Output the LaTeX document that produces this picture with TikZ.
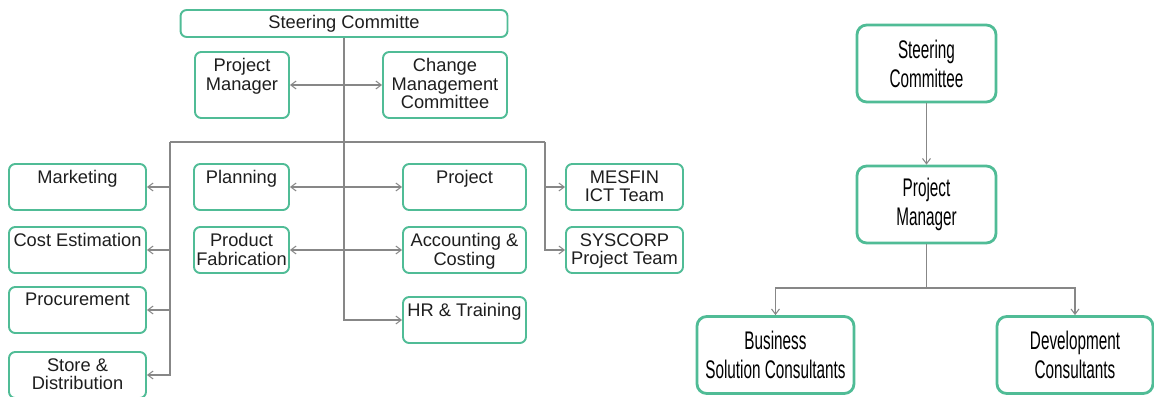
\documentclass[tikz,border=0pt]{standalone}
\usepackage{fontspec}
\setmainfont{Liberation Sans}
\newfontfamily\narrowsans[FakeStretch=0.6]{Liberation Sans}
\usetikzlibrary{arrows.meta, positioning}
\definecolor{boxgreen}{RGB}{80,188,150}
\definecolor{linegray}{RGB}{135,135,135}
\definecolor{textgray}{RGB}{30,30,30}
\newcommand{\unitfont}{\fontsize{10.4}{10.6}\selectfont}
\newcommand{\rolefont}{\narrowsans\fontsize{14.5}{16.5}\selectfont}

\tikzset{
  unitbox/.style={draw=boxgreen, line width=1.1pt, rounded corners=3.5pt, inner sep=0pt},
  unitlabel/.style={anchor=north, yshift=-3pt, inner sep=1pt, align=center, text=textgray, font=\unitfont},
  rolebox/.style={draw=boxgreen, line width=1.6pt, rounded corners=5.5pt, inner sep=2pt, align=center,
    text=black, font=\rolefont, minimum width=2.78cm, minimum height=1.54cm},
  link/.style={draw=linegray, line width=0.6pt},
  onearrow/.style={-{Straight Barb[length=3pt, width=4.5pt]}},
  twoarrow/.style={{Straight Barb[length=3pt, width=4.5pt]}-{Straight Barb[length=3pt, width=4.5pt]}}
}

\begin{document}
\begin{tikzpicture}[x=0.02cm, y=-0.02cm]
  \useasboundingbox (0,0) rectangle (1154,396);

  % left chart: committees
  \node[unitbox, minimum width=6.54cm, minimum height=0.54cm, font=\unitfont, text=textgray] (steer) at (344,23.5) {Steering Committe};
  \node[unitbox, minimum width=1.88cm, minimum height=1.32cm, label={[unitlabel]north:Project\\Manager}] (pm) at (242,85) {};
  \node[unitbox, minimum width=2.48cm, minimum height=1.32cm, label={[unitlabel]north:Change\\Management\\Committee}] (cmc) at (445,85) {};

  % left chart: units
  \node[unitbox, minimum width=2.74cm, minimum height=0.92cm, label={[unitlabel]north:Marketing}] (mkt) at (77.5,187) {};
  \node[unitbox, minimum width=2.74cm, minimum height=0.92cm, label={[unitlabel]north:Cost Estimation}] (cost) at (77.5,250) {};
  \node[unitbox, minimum width=2.74cm, minimum height=0.92cm, label={[unitlabel]north:Procurement}] (proc) at (77.5,310) {};
  \node[unitbox, minimum width=2.74cm, minimum height=0.92cm, label={[unitlabel]north:Store \&\\Distribution}] (store) at (77.5,375) {};
  \node[unitbox, minimum width=1.9cm, minimum height=0.92cm, label={[unitlabel]north:Planning}] (plan) at (241.5,187) {};
  \node[unitbox, minimum width=1.9cm, minimum height=0.92cm, label={[unitlabel]north:Product\\Fabrication}] (fab) at (241.5,250) {};
  \node[unitbox, minimum width=2.46cm, minimum height=0.92cm, label={[unitlabel]north:Project}] (proj) at (464.5,187) {};
  \node[unitbox, minimum width=2.46cm, minimum height=0.92cm, label={[unitlabel]north:Accounting \&\\Costing}] (acc) at (464.5,250) {};
  \node[unitbox, minimum width=2.46cm, minimum height=0.92cm, label={[unitlabel]north:HR \& Training}] (hr) at (464.5,320) {};
  \node[unitbox, minimum width=2.34cm, minimum height=0.92cm, label={[unitlabel]north:MESFIN\\ICT Team}] (mesfin) at (624.5,187) {};
  \node[unitbox, minimum width=2.34cm, minimum height=0.92cm, label={[unitlabel]north:SYSCORP\\Project Team}] (sys) at (624.5,250) {};

  % left chart: links
  \coordinate (busL) at (170,142);
  \coordinate (busR) at (545,142);
  \draw[link] (busL) -- (busR);
  \draw[link, onearrow] (steer.south) |- (hr.west);
  \draw[link, twoarrow] (pm.east) -- (cmc.west);
  \draw[link, twoarrow] (plan.east) -- (proj.west);
  \draw[link, twoarrow] (fab.east) -- (acc.west);
  \foreach \n in {mkt,cost,proc,store}
    \draw[link, onearrow] (busL) |- (\n.east);
  \foreach \n in {mesfin,sys}
    \draw[link, onearrow] (busR) |- (\n.west);

  % right chart
  \node[rolebox] (rsteer) at (926.5,63.5) {Steering\\Committee};
  \node[rolebox] (rpm) at (926.5,204.5) {Project\\Manager};
  \node[rolebox, minimum width=3.14cm] (bsc) at (775.5,355) {Business\\Solution Consultants};
  \node[rolebox, minimum width=3.12cm] (dev) at (1075,355) {Development\\Consultants};
  \coordinate (rbus) at (926.5,288);
  \draw[link, onearrow] (rsteer) -- (rpm);
  \draw[link] (rpm) -- (rbus);
  \draw[link, onearrow] (rbus) -| (bsc);
  \draw[link, onearrow] (rbus) -| (dev);
\end{tikzpicture}
\end{document}
